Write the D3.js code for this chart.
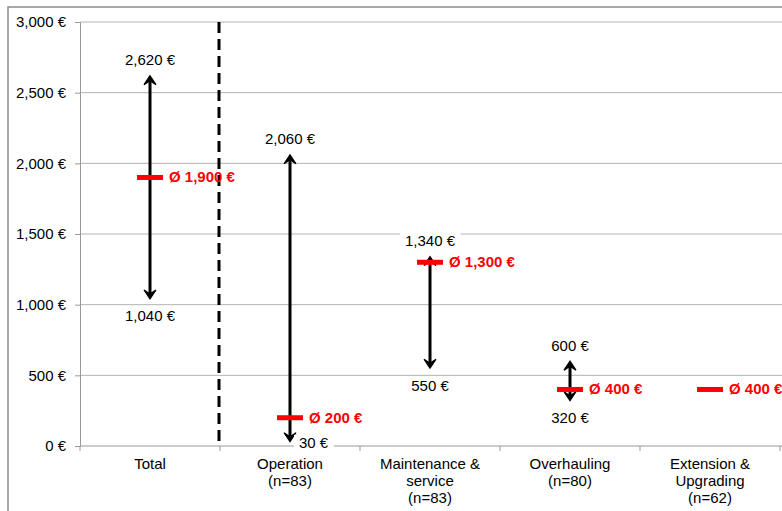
<!DOCTYPE html>
<html><head><meta charset="utf-8">
<script src="https://cdn.jsdelivr.net/npm/d3@7"></script>
<style>html,body{margin:0;padding:0;background:#fff;overflow:hidden}svg{display:block;font-family:"Liberation Sans",Arial,sans-serif}</style>
</head><body>
<script>
const categories = ["Total", "Operation", "Maintenance", "Overhauling", "Extension"];
const categoryLabels = [["Total"], ["Operation", "(n=83)"], ["Maintenance &", "service", "(n=83)"], ["Overhauling", "(n=80)"], ["Extension &", "Upgrading", "(n=62)"]];
const minValues = [1040, 30, 550, 320, null];
const maxValues = [2620, 2060, 1340, 600, null];
const meanValues = [1900, 200, 1300, 400, 400];
const yTicks = [0, 500, 1000, 1500, 2000, 2500, 3000];

const W = 782, H = 511, FS = 15;
const svg = d3.select("body").append("svg").attr("width", W).attr("height", H);
const fmt = v => d3.format(",")(v) + " €";

const y = d3.scaleLinear().domain([0, 3000]).range([446, 22]);
const x = d3.scaleBand().domain(categories).range([80, 780]);
const cx = c => x(c) + x.bandwidth() / 2;

// outer border
svg.append("path").attr("d", "M8,511 V7 H782").attr("fill", "none").attr("stroke", "#8c8c8c").attr("stroke-width", 1.5);

// gridlines
svg.append("g").selectAll("line").data(yTicks.filter(t => t > 0)).join("line")
  .attr("x1", 80).attr("x2", W).attr("y1", d => y(d)).attr("y2", d => y(d))
  .attr("stroke", "#b3b3b3").attr("stroke-width", 1);

// y axis
const yAxis = svg.append("g").attr("transform", "translate(80,0)")
  .call(d3.axisLeft(y).tickValues(yTicks).tickSize(5).tickPadding(9).tickFormat(fmt));
yAxis.select(".domain").attr("stroke", "#999");
yAxis.selectAll(".tick line").attr("stroke", "#999");
yAxis.selectAll("text").attr("font-size", FS).attr("fill", "#000").attr("font-family", "Liberation Sans, Arial, sans-serif");

// x axis
const xAxis = svg.append("g").attr("transform", "translate(0,446)")
  .call(d3.axisBottom(x).tickSize(0).tickFormat(""));
xAxis.select(".domain").attr("stroke", "#999").attr("d", "M80,0H" + W);
const bounds = categories.map(c => x(c)).concat([x(categories[categories.length - 1]) + x.bandwidth()]);
xAxis.selectAll(".bt").data(bounds).join("line").attr("class", "bt")
  .attr("x1", d => d).attr("x2", d => d).attr("y1", 0).attr("y2", 5).attr("stroke", "#999");

// category labels
categories.forEach((c, i) => {
  const t = svg.append("text").attr("x", cx(c)).attr("text-anchor", "middle").attr("font-size", FS).attr("fill", "#000");
  categoryLabels[i].forEach((ln, j) => t.append("tspan").attr("x", cx(c)).attr("y", 469 + j * 17).text(ln));
});

// dashed separator
svg.append("line").attr("x1", x(categories[1]) - 1).attr("x2", x(categories[1]) - 1).attr("y1", y(3000)).attr("y2", y(0))
  .attr("stroke", "#000").attr("stroke-width", 3).attr("stroke-dasharray", "11,6");

function label(xc, yc, txt, anchor) {
  const g = svg.append("g");
  const t = g.append("text").attr("x", xc).attr("y", yc).attr("dy", "0.36em").attr("text-anchor", anchor || "middle")
    .attr("font-size", FS).attr("fill", "#000").text(txt);
  const bb = t.node().getBBox();
  g.insert("rect", "text").attr("x", bb.x - 5).attr("y", yc - 8).attr("width", bb.width + 10).attr("height", 16).attr("fill", "#fff");
}

function arrowHead(xc, ytip, dir) {
  // dir -1 = pointing up, +1 = pointing down
  const L = 9, Wd = 6, n = 5;
  svg.append("path").attr("d", `M${xc},${ytip} L${xc - Wd},${ytip - dir * L} L${xc},${ytip - dir * n} L${xc + Wd},${ytip - dir * L} Z`)
    .attr("fill", "#000").attr("stroke", "#000").attr("stroke-width", 1.2).attr("stroke-linejoin", "miter");
}

categories.forEach((c, i) => {
  const xc = cx(c);
  if (minValues[i] != null && maxValues[i] != null) {
    const yTop = y(maxValues[i]), yBot = y(minValues[i]);
    svg.append("line").attr("x1", xc).attr("x2", xc).attr("y1", yTop + 5).attr("y2", yBot - 5)
      .attr("stroke", "#000").attr("stroke-width", 3);
    arrowHead(xc, yTop, -1);
    arrowHead(xc, yBot, 1);
  }
});

// mean markers
categories.forEach((c, i) => {
  const xc = cx(c), ym = y(meanValues[i]);
  svg.append("rect").attr("x", xc - 13).attr("y", ym - 2.5).attr("width", 26).attr("height", 5).attr("fill", "#ff0000");
  svg.append("text").attr("x", xc + 19).attr("y", ym - 0.5).attr("dy", "0.36em").attr("font-size", FS).attr("font-weight", "bold")
    .attr("fill", "#ff0000").text("Ø " + fmt(meanValues[i]));
});

// min / max labels
categories.forEach((c, i) => {
  const xc = cx(c);
  if (maxValues[i] != null) label(xc, y(maxValues[i]) - 16, fmt(maxValues[i]));
  if (minValues[i] != null) {
    const yb = y(minValues[i]);
    if (yb + 17 > y(0) - 8) label(xc + 9, yb + 1, fmt(minValues[i]), "start");
    else label(xc, yb + 17, fmt(minValues[i]));
  }
});
</script>
</body></html>
